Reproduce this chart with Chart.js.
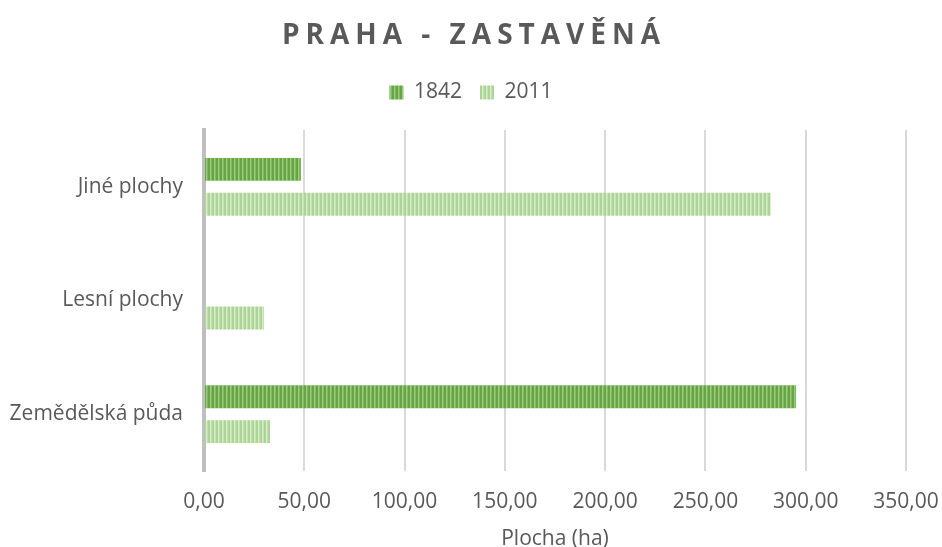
<!DOCTYPE html>
<html>
<head>
<meta charset="utf-8">
<script src="https://cdn.jsdelivr.net/npm/chart.js@4"></script>
<style>
  html, body { margin: 0; padding: 0; background: #fff; }
  #wrap { position: relative; width: 942px; height: 547px; }
  #title {
    position: absolute; left: 3px; top: 14px; width: 942px; text-align: center;
    font: bold 28px "Open Sans", sans-serif; letter-spacing: 6px; color: #595959;
  }
</style>
</head>
<body>
<div id="wrap">
  <div id="title">PRAHA - ZASTAVĚNÁ</div>
  <canvas id="c" width="942" height="547"></canvas>
</div>
<script>
// data
const categories = ["Jiné plochy", "Lesní plochy", "Zemědělská půda"];
const years = ["1842", "2011"];
const values1842 = [48.3, 0, 295.2];
const values2011 = [282.6, 29.9, 32.9];
const xTicks = [0, 50, 100, 150, 200, 250, 300, 350];

// vertical stripe fill like the original
function stripes(colors) {
  const cv = document.createElement("canvas");
  cv.width = colors.length;
  cv.height = 1;
  const cx = cv.getContext("2d");
  colors.forEach((col, i) => {
    cx.fillStyle = col;
    cx.fillRect(i, 0, 1, 1);
  });
  return cv.getContext("2d").createPattern(cv, "repeat");
}
const dark = stripes(["#66a545", "#66a545", "#9ccc80", "#80ba5e"]);
const light = stripes(["#acd494", "#acd494", "#d8edcb", "#c3e0b1"]);

const fmt = (v) => v.toFixed(2).replace(".", ",");
const font = { family: "Open Sans", size: 21 };

// extra room under the legend
const legendGap = {
  id: "legendGap",
  beforeInit(chart) {
    const fit = chart.legend.fit;
    chart.legend.fit = function () {
      fit.call(this);
      this.height += 17;
    };
  },
};

new Chart(document.getElementById("c"), {
  type: "bar",
  data: {
    labels: categories,
    datasets: [
      { label: years[0], data: values1842, backgroundColor: dark },
      { label: years[1], data: values2011, backgroundColor: light },
    ],
  },
  plugins: [legendGap],
  options: {
    indexAxis: "y",
    responsive: false,
    animation: false,
    layout: { padding: { top: 64, right: 0, left: 0, bottom: 0 } },
    datasets: { bar: { categoryPercentage: 0.614, barPercentage: 0.657 } },
    plugins: {
      legend: {
        position: "top",
        labels: {
          boxWidth: 14,
          boxHeight: 14,
          color: "#595959",
          font,
          padding: 18,
        },
      },
      tooltip: { enabled: false },
    },
    scales: {
      x: {
        min: 0,
        max: 350,
        afterBuildTicks: (axis) => {
          axis.ticks = xTicks.map((v) => ({ value: v }));
        },
        afterFit: (axis) => {
          axis.paddingRight = 36;
          axis.height = 76;
        },
        ticks: {
          callback: (v) => fmt(v),
          color: "#595959",
          font,
          padding: 18,
        },
        grid: { color: "#d9d9d9", lineWidth: 2, drawTicks: false },
        border: { display: false },
        title: {
          display: true,
          text: "Plocha (ha)",
          color: "#595959",
          font,
          padding: { top: 0, bottom: -5 },
        },
      },
      y: {
        afterFit: (axis) => {
          axis.width = 204;
        },
        ticks: {
          color: "#595959",
          font,
          padding: 21,
        },
        grid: { display: false, drawTicks: false },
        border: { color: "#bfbfbf", width: 4 },
      },
    },
  },
});
</script>
</body>
</html>
